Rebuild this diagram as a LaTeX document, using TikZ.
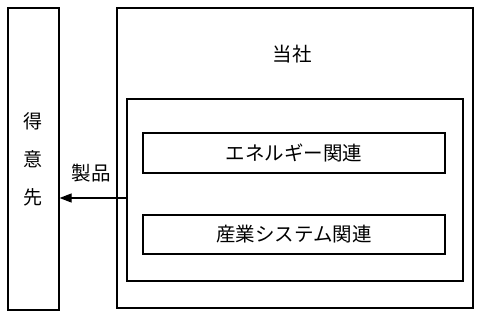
\documentclass[tikz,border=0pt]{standalone}
\usepackage{fontspec}
\setmainfont{Noto Sans CJK JP}
\usetikzlibrary{arrows.meta,positioning}
\begin{document}
\begin{tikzpicture}[x=1pt, y=-1pt,
    frame/.style={draw, line width=1.2pt, inner sep=0pt},
    unitbox/.style={frame, minimum width=302pt, minimum height=40pt,
                    font=\fontsize{19.5}{21}\selectfont},
    lab/.style={font=\fontsize{19.5}{21}\selectfont, inner sep=0pt},
    arr/.style={-{Triangle[length=12pt, width=9pt]}, line width=1.2pt}
  ]
  \useasboundingbox (0,0) rectangle (480,317);
  % customer
  \node[frame, minimum width=51pt, minimum height=302pt] (client) at (33.5,159) {};
  \node[lab, align=center, font=\fontsize{19}{38}\selectfont] (clientlab) at (33,159.5)
    {得\\意\\先};
  % company
  \node[frame, minimum width=356pt, minimum height=300pt] (company) at (295,158) {};
  \node[lab] (companylab) at (292,54) {当社};
  \node[frame, minimum width=336pt, minimum height=182pt] (segments) at (295,190) {};
  \node[unitbox] (energy) at (294,153) {エネルギー関連};
  \node[unitbox, minimum height=39pt] (industry) at (294,234.5) {産業システム関連};
  % products
  \coordinate (src) at (segments.west |- 0,198);
  \draw[arr] (src) -- (src -| client.east);
  \node[lab] (productlab) at (91,173) {製品};
\end{tikzpicture}
\end{document}
